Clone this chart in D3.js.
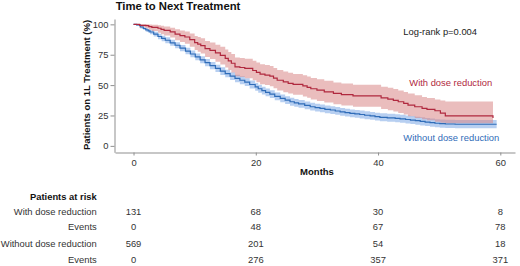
<!DOCTYPE html>
<html>
<head>
<meta charset="utf-8">
<script src="https://cdn.jsdelivr.net/npm/d3@7"></script>
<style>
  html, body { margin: 0; padding: 0; background: #fff; }
  svg { display: block; font-family: Arial, "Liberation Sans", Helvetica, sans-serif; }
</style>
</head>
<body>
<svg id="chart" width="520" height="266"></svg>
<script>
// ---- Data ----
const redTime  = [0, 1, 2, 2.5, 3, 4, 4.5, 5, 6, 6.8, 7.6, 8.4, 9.2, 10, 10.5, 11, 11.7, 12.5, 13.4, 14.2, 15, 15.5, 16, 16.6, 17.4, 18.2, 19.5, 20.1, 20.7, 21.5, 22.3, 22.9, 23.5, 24.5, 25.3, 26.1, 27.7, 28.4, 29, 30, 31.2, 32.7, 34, 35.9, 40.5, 41.6, 42.5, 43.3, 44.2, 44.9, 46, 47.2, 48, 49.3, 50.2, 51, 58.8];
const redSurv  = [100, 99.2, 99, 98.2, 97.5, 96.8, 95.8, 95, 93.8, 92, 90.8, 89.6, 87.5, 85, 83.8, 82.5, 80, 78.5, 76.5, 74.5, 72, 70, 68, 65, 64.5, 63.7, 62, 60.5, 59, 58.2, 57.4, 55.7, 54, 52.7, 51.5, 50.6, 49.4, 48.2, 47, 45.9, 44.5, 43.2, 42.2, 41.2, 39.5, 38.5, 37.5, 36.3, 35, 33.6, 32.2, 30.9, 30, 28.9, 27, 24.6, 23];
const redLower = [100, 97.6, 96.8, 95.6, 94.5, 93, 91.8, 90.8, 89.2, 87, 85.5, 84, 81.6, 78.8, 77.4, 76, 73.2, 71.5, 69.3, 67, 64.5, 62.4, 60.3, 57.2, 56.6, 55.7, 53.9, 52.4, 50.8, 50, 49.1, 47.4, 45.6, 44.2, 43, 42, 40.7, 39.5, 38.2, 37, 35.6, 34.2, 33.2, 32.1, 30.3, 29.3, 28.3, 27, 25.8, 24.4, 23, 21.8, 21, 19.9, 19, 18.6, 18.6];
const redUpper = [100, 100, 100, 99.8, 99.6, 99.3, 98.8, 98.2, 97.3, 96, 95, 94.2, 92.5, 90.5, 89.5, 88.5, 86.3, 85, 83.2, 81.5, 79.2, 77.3, 75.5, 72.8, 72.3, 71.6, 70, 68.6, 67.2, 66.5, 65.7, 64.1, 62.5, 61.2, 60.2, 59.2, 58.1, 57, 55.8, 54.8, 53.5, 52.2, 51.3, 50.3, 48.7, 47.8, 46.8, 45.6, 44.4, 43, 41.6, 40.2, 39.3, 38.2, 37.3, 36.5, 36.5];

const blueTime  = [0, 0.5, 1.1, 1.6, 2, 2.4, 2.7, 3.3, 4, 4.6, 5.2, 6, 6.8, 7.6, 8.5, 9.3, 10.1, 10.9, 11.7, 12.5, 13.4, 14.2, 15, 15.8, 16.6, 17.4, 18.2, 19, 19.9, 20.4, 21, 21.6, 22.3, 23.1, 24, 24.8, 25.6, 26.3, 27, 28, 28.9, 29.7, 30.5, 31.3, 32.2, 33, 33.8, 34.6, 35.4, 36.2, 37, 37.8, 38.7, 39.5, 40.3, 41.5, 42.8, 43.6, 44.5, 45.3, 46.1, 46.9, 47.7, 48.5, 49.3, 50.1, 51, 52.6, 59.4];
const blueSurv  = [100, 99.5, 97.8, 96.6, 95.5, 94.6, 93.7, 92, 90, 88.4, 86.9, 84.8, 82.8, 80.5, 78, 75.6, 73.2, 70.8, 68.5, 66, 63.7, 61.5, 59.5, 57.4, 55.5, 54, 52.5, 50.5, 48.6, 47, 45.5, 44, 42.5, 40.8, 39, 37.6, 36.3, 35.4, 34.5, 33.3, 32.2, 31.5, 30.8, 30.1, 29.5, 28.7, 28, 27.4, 26.8, 26.3, 25.8, 25.2, 24.6, 24, 23.5, 23.1, 22.7, 22.2, 21.7, 21.2, 20.7, 20.1, 19.6, 19.1, 18.6, 18.3, 18, 17.8, 17.8];
const blueLower = [100, 98.9, 96.6, 95.3, 94, 93, 91.9, 90, 87.8, 86.1, 84.5, 82.3, 80.3, 77.9, 75.3, 72.9, 70.4, 68, 65.6, 63, 60.7, 58.4, 56.4, 54.3, 52.4, 50.8, 49.3, 47.3, 45.4, 43.8, 42.3, 40.8, 39.3, 37.6, 35.8, 34.4, 33.1, 32.2, 31.3, 30.1, 29, 28.3, 27.6, 26.9, 26.3, 25.5, 24.8, 24.2, 23.6, 23.1, 22.6, 22, 21.4, 20.8, 20.3, 19.9, 19.5, 19, 18.4, 17.9, 17.4, 16.8, 16.3, 15.8, 15.3, 15, 14.7, 14.5, 14.5];
const blueUpper = [100, 100, 98.9, 97.9, 97, 96.2, 95.5, 94, 92.2, 90.7, 89.3, 87.3, 85.3, 83.1, 80.7, 78.4, 76, 73.7, 71.4, 69, 66.7, 64.6, 62.6, 60.5, 58.6, 57.2, 55.7, 53.7, 51.8, 50.2, 48.7, 47.2, 45.7, 44, 42.2, 40.8, 39.5, 38.6, 37.7, 36.5, 35.4, 34.7, 34, 33.3, 32.7, 31.9, 31.2, 30.6, 30, 29.5, 29, 28.4, 27.8, 27.2, 26.8, 26.4, 26, 25.5, 25, 24.5, 24, 23.5, 23, 22.5, 22, 21.7, 21.4, 21.2, 21.2];

const xTicks = [0, 20, 40, 60];
const yTicks = [0, 25, 50, 75, 100];

const riskLabels = ["With dose reduction", "Events", "Without dose reduction", "Events"];
const riskRows = [
  [131, 68, 30, 8],
  [0, 48, 67, 78],
  [569, 201, 54, 18],
  [0, 276, 357, 371]
];

// ---- Layout ----
const svg = d3.select("#chart");
const x = d3.scaleLinear().domain([-3.03, 62.4]).range([115, 515]);
const y = d3.scaleLinear().domain([-5.3, 104.4]).range([152.3, 19]);

const axisColor = "#8f8f8f";
const textColor = "#333";

function mk(time, s, lo, hi) {
  return time.map((t, i) => ({ t, s: s[i], lo: lo[i], hi: hi[i] }));
}
const red = mk(redTime, redSurv, redLower, redUpper);
const blue = mk(blueTime, blueSurv, blueLower, blueUpper);

const area = d3.area().curve(d3.curveStepAfter)
  .x(d => x(d.t)).y0(d => y(d.lo)).y1(d => y(d.hi));
const line = d3.line().curve(d3.curveStepAfter)
  .x(d => x(d.t)).y(d => y(d.s));

// Bands
svg.append("path").datum(blue).attr("d", area)
  .attr("fill", "#6f9fe3").attr("fill-opacity", 0.5);
svg.append("path").datum(red).attr("d", area)
  .attr("fill", "#d98686").attr("fill-opacity", 0.55);

// Lines
svg.append("path").datum(blue).attr("d", line)
  .attr("fill", "none").attr("stroke", "#2f6cb8").attr("stroke-width", 1.2);
svg.append("path").datum(red).attr("d", line)
  .attr("fill", "none").attr("stroke", "#b0283e").attr("stroke-width", 1.2);

// Axes
const yAxis = d3.axisLeft(y).tickValues(yTicks).tickSize(4).tickPadding(2).tickSizeOuter(0);
const gy = svg.append("g").attr("transform", "translate(114.5,0)").call(yAxis);
const xAxis = d3.axisBottom(x).tickValues(xTicks).tickSize(3).tickPadding(4).tickSizeOuter(0);
const gx = svg.append("g").attr("transform", "translate(0,152.5)").call(xAxis);
[gx, gy].forEach(g => {
  g.selectAll("path.domain").attr("stroke", axisColor);
  g.selectAll(".tick line").attr("stroke", axisColor);
  g.selectAll(".tick text").attr("fill", textColor)
    .style("font-size", "9.4px").style("font-family", "Arial, 'Liberation Sans', sans-serif");
});

// Titles and labels
svg.append("text").attr("x", 178).attr("y", 10).attr("text-anchor", "middle")
  .style("font-size", "11.3px").style("font-weight", "bold").attr("fill", "#111")
  .text("Time to Next Treatment");

svg.append("text").attr("transform", "translate(90,85) rotate(-90)").attr("text-anchor", "middle")
  .style("font-size", "9.5px").style("font-weight", "bold").attr("fill", "#111")
  .text("Patients on 1L Treatment (%)");

svg.append("text").attr("x", 317).attr("y", 175).attr("text-anchor", "middle")
  .style("font-size", "9.5px").style("font-weight", "bold").attr("fill", "#111")
  .text("Months");

svg.append("text").attr("x", 403.3).attr("y", 35)
  .style("font-size", "9.4px").attr("fill", "#222")
  .text("Log-rank p=0.004");

svg.append("text").attr("x", 409.3).attr("y", 86)
  .style("font-size", "9.4px").attr("fill", "#b0283e")
  .text("With dose reduction");

svg.append("text").attr("x", 403.3).attr("y", 140.7)
  .style("font-size", "9.4px").attr("fill", "#2f6cb8")
  .text("Without dose reduction");

// Risk table
svg.append("text").attr("x", 96.7).attr("y", 200).attr("text-anchor", "end")
  .style("font-size", "9.4px").style("font-weight", "bold").attr("fill", "#111")
  .text("Patients at risk");

const rowY = [215, 229.5, 247, 263];
riskLabels.forEach((lab, i) => {
  svg.append("text").attr("x", 96.7).attr("y", rowY[i]).attr("text-anchor", "end")
    .style("font-size", "9.4px").attr("fill", textColor).text(lab);
  riskRows[i].forEach((v, j) => {
    svg.append("text").attr("x", x(xTicks[j])).attr("y", rowY[i]).attr("text-anchor", "middle")
      .style("font-size", "9.4px").attr("fill", textColor).text(v);
  });
});
</script>
</body>
</html>
